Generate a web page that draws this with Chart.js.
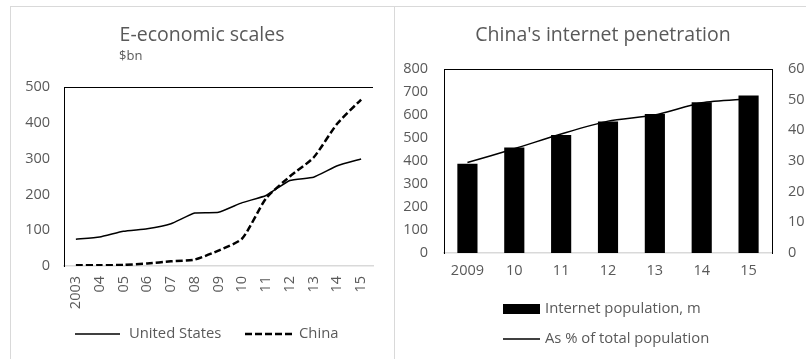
<!DOCTYPE html>
<html>
<head>
<meta charset="utf-8">
<script src="https://cdn.jsdelivr.net/npm/chart.js@4.4.1/dist/chart.umd.min.js"></script>
<style>
  html, body { margin: 0; padding: 0; background: #fff; }
  body { width: 806px; height: 359px; overflow: hidden; position: relative; font-family: "Open Sans", sans-serif; }
  .frame { position: absolute; background: #d9d9d9; }
  #left { position: absolute; left: 0; top: 0; }
  #right { position: absolute; left: 394px; top: 0; }
</style>
</head>
<body>
<div class="frame" style="left:10px;top:6px;width:1px;height:353px"></div>
<div class="frame" style="left:10px;top:6px;width:796px;height:1px"></div>
<div class="frame" style="left:394px;top:6px;width:1px;height:353px"></div>
<canvas id="left" width="394" height="359"></canvas>
<canvas id="right" width="420" height="359"></canvas>
<script>
// left chart: e-commerce, $bn
const years = ["2003", "04", "05", "06", "07", "08", "09", "10", "11", "12", "13", "14", "15"];
const usSales = [75, 81, 97, 104, 118, 148, 150, 177, 197, 239, 248, 280, 299];
const chinaSales = [2, 2, 3, 7, 13, 18, 43, 77, 189, 250, 303, 398, 465];

// right chart: internet penetration
const netYears = ["2009", "10", "11", "12", "13", "14", "15"];
const netUsers = [388, 459, 513, 572, 604, 655, 685];
const netShare = [29.5, 34, 38.8, 43, 45, 49, 50.3];

const grey = "#595959";
const tickFont = { family: "Open Sans", size: 14.5 };

// title, subtitle, top frame line and legend, drawn on the canvas
const decor = {
  id: "decor",
  afterDraw(chart, args, o) {
    const ctx = chart.ctx, a = chart.chartArea;
    ctx.save();
    ctx.strokeStyle = "#000";
    ctx.lineWidth = 1;
    ctx.beginPath();
    ctx.moveTo(a.left, a.top + 0.5);
    ctx.lineTo(a.right, a.top + 0.5);
    ctx.stroke();

    ctx.fillStyle = grey;
    ctx.textBaseline = "alphabetic";
    ctx.textAlign = "center";
    ctx.font = "19.5px 'Open Sans'";
    ctx.fillText(o.title, o.titleX, 41);
    if (o.sub) {
      ctx.textAlign = "left";
      ctx.font = "13px 'Open Sans'";
      ctx.fillText(o.sub, o.subX, 60);
    }

    ctx.font = "14.8px 'Open Sans'";
    ctx.textAlign = "left";
    ctx.textBaseline = "middle";
    o.items.forEach((it, i) => {
      const ds = chart.data.datasets[i];
      if (ds.type === "bar") {
        ctx.fillStyle = ds.backgroundColor;
        ctx.fillRect(it.x0, it.y - 5, it.x1 - it.x0, 10);
      } else {
        ctx.strokeStyle = ds.borderColor;
        ctx.lineWidth = ds.borderWidth;
        ctx.setLineDash(ds.borderDash || []);
        ctx.beginPath();
        ctx.moveTo(it.x0, it.y);
        ctx.lineTo(it.x1, it.y);
        ctx.stroke();
        ctx.setLineDash([]);
      }
      ctx.fillStyle = grey;
      ctx.fillText(ds.label, it.tx, it.y);
    });
    ctx.restore();
  }
};

new Chart(document.getElementById("left"), {
  type: "line",
  data: {
    labels: years,
    datasets: [
      { type: "line", label: "United States", data: usSales, borderColor: "#000", borderWidth: 1.5, pointRadius: 0, tension: 0.15 },
      { type: "line", label: "China", data: chinaSales, borderColor: "#000", borderWidth: 2.5, borderDash: [7, 3], pointRadius: 0, tension: 0.2 }
    ]
  },
  options: {
    responsive: false,
    animation: false,
    layout: { padding: { top: 87, right: 21, left: 0, bottom: 0 } },
    plugins: {
      legend: { display: false },
      tooltip: { enabled: false },
      decor: {
        title: "E-economic scales", titleX: 202, sub: "$bn", subX: 119,
        items: [
          { x0: 75, x1: 120, tx: 129, y: 334 },
          { x0: 245, x1: 295, tx: 299, y: 334 }
        ]
      }
    },
    scales: {
      x: {
        offset: true,
        grid: { display: false, drawTicks: false },
        border: { color: "#d9d9d9", width: 1.5 },
        ticks: { color: grey, font: tickFont, minRotation: 90, maxRotation: 90, autoSkip: false, padding: 10 },
        afterFit(s) { s.height = 93; }
      },
      y: {
        min: 0, max: 500,
        grid: { display: false, drawTicks: false },
        border: { color: "#000", width: 1 },
        ticks: { color: grey, font: tickFont, stepSize: 100, padding: 14 },
        afterFit(s) { s.width = 64; }
      }
    }
  },
  plugins: [decor]
});

new Chart(document.getElementById("right"), {
  data: {
    labels: netYears,
    datasets: [
      { type: "bar", label: "Internet population, m", data: netUsers, backgroundColor: "#000", yAxisID: "y", barPercentage: 0.43, categoryPercentage: 1, order: 2 },
      { type: "line", label: "As % of total population", data: netShare, borderColor: "#000", borderWidth: 1.5, pointRadius: 0, tension: 0.25, yAxisID: "y1", order: 1 }
    ]
  },
  options: {
    responsive: false,
    animation: false,
    layout: { padding: { top: 69, right: 0, left: 0, bottom: 0 } },
    plugins: {
      legend: { display: false },
      tooltip: { enabled: false },
      decor: {
        title: "China's internet penetration", titleX: 209,
        items: [
          { x0: 109, x1: 146, tx: 151, y: 309 },
          { x0: 109, x1: 146, tx: 151, y: 339 }
        ]
      }
    },
    scales: {
      x: {
        grid: { display: false, drawTicks: false },
        border: { color: "#d9d9d9", width: 1.5 },
        ticks: { color: grey, font: tickFont, maxRotation: 0, padding: 9 },
        afterFit(s) { s.height = 106; }
      },
      y: {
        min: 0, max: 800,
        grid: { display: false, drawTicks: false },
        border: { color: "#000", width: 1 },
        ticks: { color: grey, font: tickFont, stepSize: 100, padding: 16 },
        afterFit(s) { s.width = 50; }
      },
      y1: {
        position: "right",
        min: 0, max: 60,
        grid: { display: false, drawTicks: false },
        border: { color: "#000", width: 1 },
        ticks: { color: grey, font: tickFont, stepSize: 10, padding: 16 },
        afterFit(s) { s.width = 42; }
      }
    }
  },
  plugins: [decor]
});
</script>
</body>
</html>
